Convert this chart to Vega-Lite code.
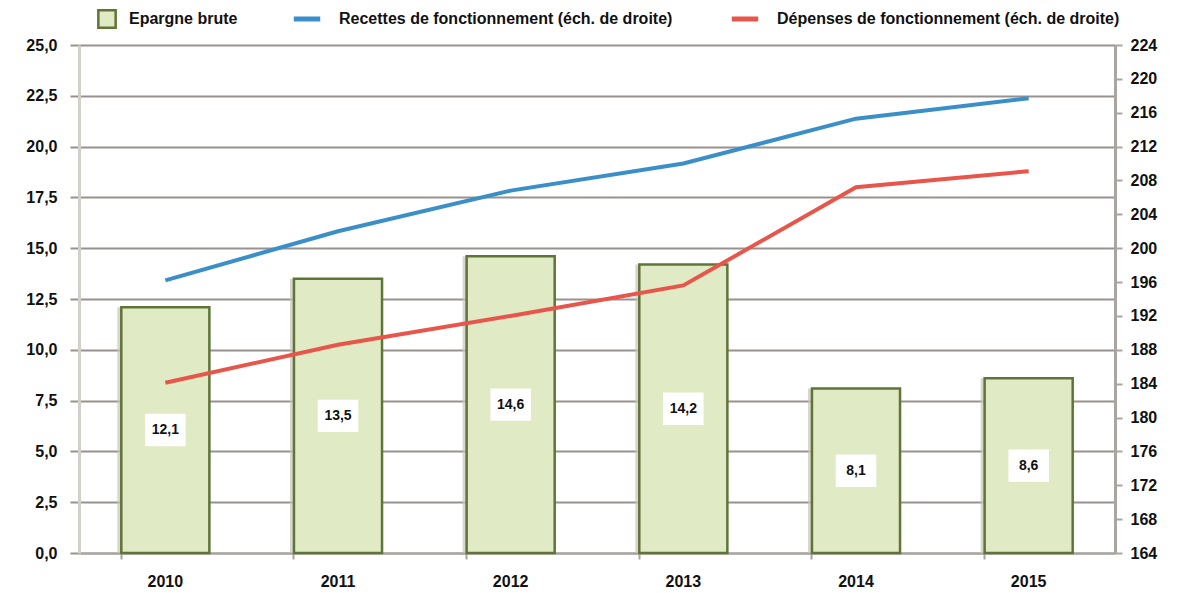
{
  "$schema": "https://vega.github.io/schema/vega-lite/v6.json",
  "width": 1182,
  "height": 593,
  "autosize": {"type": "fit", "contains": "padding"},
  "padding": {"left": 25, "right": 25, "top": 37, "bottom": 4},
  "background": "white",
  "config": {
    "view": {"stroke": null},
    "font": "Liberation Sans",
    "locale": {"number": {"decimal": ",", "thousands": " ", "grouping": [3], "currency": ["", " €"]}},
    "axis": {"labelFont": "Liberation Sans", "labelFontWeight": "bold", "labelFontSize": 16, "labelColor": "#111111"},
    "legend": {"labelFont": "Liberation Sans", "labelFontSize": 16, "labelColor": "#111111"}
  },
  "data": {
    "values": [
      {"annee": "2010", "epargne": 12.1, "recettes": 196.2, "depenses": 184.1},
      {"annee": "2011", "epargne": 13.5, "recettes": 202.0, "depenses": 188.6},
      {"annee": "2012", "epargne": 14.6, "recettes": 206.8, "depenses": 192.0},
      {"annee": "2013", "epargne": 14.2, "recettes": 210.0, "depenses": 195.6},
      {"annee": "2014", "epargne": 8.1, "recettes": 215.3, "depenses": 207.2},
      {"annee": "2015", "epargne": 8.6, "recettes": 217.7, "depenses": 209.1}
    ]
  },
  "encoding": {
    "x": {
      "field": "annee", "type": "nominal",
      "scale": {"paddingInner": 0.49, "paddingOuter": 0.245},
      "axis": {"title": null, "labelAngle": 0, "domainColor": "#a8a49e", "domainWidth": 2, "tickColor": "#a8a49e", "tickWidth": 2, "tickSize": 6, "bandPosition": 0, "labelPadding": 14, "grid": false}
    }
  },
  "resolve": {"scale": {"y": "independent"}},
  "layer": [
    {
      "layer": [
        {
          "mark": {"type": "bar", "xOffset": -4, "fill": "#c9c4be", "opacity": 0.7},
          "encoding": {
            "y": {
              "field": "epargne", "type": "quantitative",
              "scale": {"domain": [0, 25], "nice": false},
              "axis": {
                "title": null, "orient": "left", "values": [0, 2.5, 5, 7.5, 10, 12.5, 15, 17.5, 20, 22.5, 25],
                "format": ".1f", "labelOverlap": false,
                "grid": true, "gridColor": "#97928d", "gridWidth": 2,
                "domainColor": "#d3cfc9", "domainWidth": 3,
                "tickColor": "#97928d", "tickWidth": 2, "tickSize": 9, "labelPadding": 13
              }
            }
          }
        },
        {
          "mark": {"type": "bar", "stroke": "#5F7537", "strokeWidth": 2.5},
          "encoding": {
            "y": {"field": "epargne", "type": "quantitative"},
            "fill": {
              "datum": "Epargne brute",
              "type": "nominal",
              "scale": {"domain": ["Epargne brute"], "range": ["#E0EAC5"]},
              "legend": {
                "title": null, "orient": "none", "direction": "horizontal",
                "legendX": 18, "legendY": -36,
                "symbolType": "square", "symbolSize": 300, "symbolStrokeColor": "#5F7537", "symbolStrokeWidth": 2.5,
                "labelFontWeight": "bold", "labelLimit": 0, "labelOffset": 12
              }
            }
          }
        },
        {
          "transform": [{"calculate": "datum.epargne / 2", "as": "mid"}],
          "mark": {"type": "point", "shape": "M-1.25,-1L1.25,-1L1.25,1L-1.25,1Z", "size": 1050, "filled": true, "fill": "white", "opacity": 1, "strokeWidth": 0},
          "encoding": {
            "y": {"field": "mid", "type": "quantitative"}
          }
        },
        {
          "transform": [{"calculate": "datum.epargne / 2", "as": "mid"}],
          "mark": {"type": "text", "fontWeight": "bold", "fontSize": 14, "color": "#111111"},
          "encoding": {
            "y": {"field": "mid", "type": "quantitative"},
            "text": {"field": "epargne", "type": "quantitative", "format": ".1f"}
          }
        }
      ]
    },
    {
      "layer": [
        {
          "mark": {"type": "line", "strokeWidth": 4},
          "encoding": {
            "y": {
              "field": "recettes", "type": "quantitative",
              "scale": {"domain": [164, 224], "nice": false},
              "axis": {
                "title": null, "orient": "right", "values": [164, 168, 172, 176, 180, 184, 188, 192, 196, 200, 204, 208, 212, 216, 220, 224],
                "labelOverlap": false, "tickCount": 16,
                "grid": false, "domainColor": "#aaa69f", "domainWidth": 3,
                "tickColor": "#aaa69f", "tickWidth": 2, "tickSize": 7, "labelPadding": 8
              }
            },
            "stroke": {
              "datum": "Recettes de fonctionnement (éch. de droite)", "type": "nominal",
              "scale": {
                "domain": ["Recettes de fonctionnement (éch. de droite)", "Dépenses de fonctionnement (éch. de droite)"],
                "range": ["#3B8FC9", "#E8564B"]
              },
              "legend": {
                "title": null, "orient": "none", "direction": "horizontal",
                "legendX": 212, "legendY": -42,
                "symbolType": "stroke", "symbolSize": 700, "symbolStrokeWidth": 5,
                "columnPadding": 48,
                "labelFontWeight": "bold", "labelLimit": 0, "labelOffset": 16
              }
            }
          }
        },
        {
          "mark": {"type": "line", "strokeWidth": 4},
          "encoding": {
            "y": {
              "field": "depenses", "type": "quantitative",
              "axis": {
                "title": null, "orient": "right", "values": [164, 168, 172, 176, 180, 184, 188, 192, 196, 200, 204, 208, 212, 216, 220, 224],
                "labelOverlap": false, "tickCount": 16,
                "grid": false, "domainColor": "#aaa69f", "domainWidth": 3,
                "tickColor": "#aaa69f", "tickWidth": 2, "tickSize": 7, "labelPadding": 8
              }
            },
            "stroke": {"datum": "Dépenses de fonctionnement (éch. de droite)", "type": "nominal"}
          }
        }
      ]
    }
  ]
}
